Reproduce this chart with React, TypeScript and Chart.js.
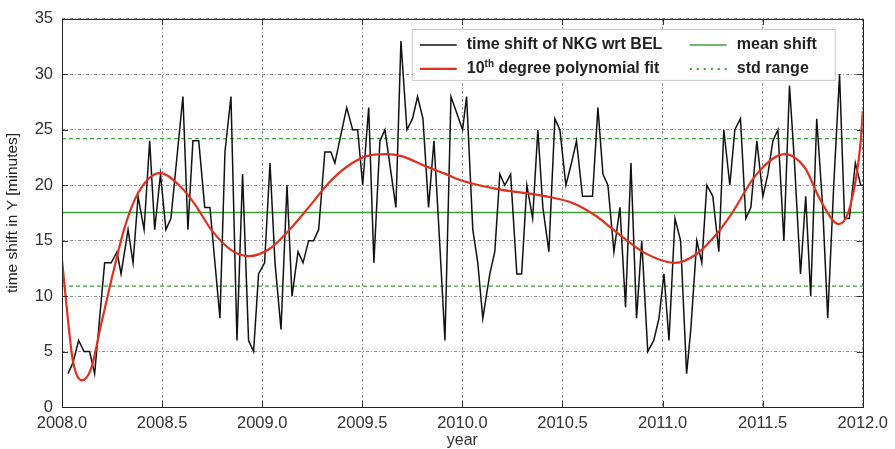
import React, { useEffect, useRef } from 'react';
import { Chart, registerables } from 'chart.js';

Chart.register(...registerables);

// ---- data ----
const shiftYears = [
  2008.030, 2008.055, 2008.083, 2008.110, 2008.138, 2008.163, 2008.213, 2008.246, 2008.275, 2008.295,
  2008.330, 2008.355, 2008.380, 2008.410, 2008.438, 2008.463, 2008.492, 2008.519, 2008.544, 2008.604,
  2008.629, 2008.654, 2008.683, 2008.713, 2008.739, 2008.789, 2008.814, 2008.844, 2008.874, 2008.902,
  2008.932, 2008.957, 2008.982, 2009.012, 2009.039, 2009.064, 2009.094, 2009.124, 2009.149, 2009.179,
  2009.204, 2009.232, 2009.257, 2009.282, 2009.313, 2009.343, 2009.363, 2009.422, 2009.452, 2009.477,
  2009.502, 2009.532, 2009.558, 2009.588, 2009.613, 2009.668, 2009.693, 2009.723, 2009.751, 2009.776,
  2009.803, 2009.831, 2009.858, 2009.883, 2009.913, 2009.943, 2010.001, 2010.021, 2010.052, 2010.077,
  2010.102, 2010.137, 2010.162, 2010.187, 2010.212, 2010.241, 2010.272, 2010.296, 2010.322, 2010.351,
  2010.377, 2010.402, 2010.432, 2010.462, 2010.487, 2010.517, 2010.545, 2010.570, 2010.600, 2010.650,
  2010.677, 2010.702, 2010.727, 2010.757, 2010.787, 2010.815, 2010.842, 2010.870, 2010.896, 2010.926,
  2010.956, 2010.982, 2011.007, 2011.032, 2011.062, 2011.090, 2011.120, 2011.141, 2011.171, 2011.196,
  2011.221, 2011.251, 2011.281, 2011.306, 2011.336, 2011.361, 2011.389, 2011.416, 2011.441, 2011.471,
  2011.501, 2011.526, 2011.551, 2011.576, 2011.606, 2011.634, 2011.659, 2011.689, 2011.715, 2011.740,
  2011.770, 2011.800, 2011.825, 2011.855, 2011.884, 2011.909, 2011.933, 2011.963, 2011.990, 2012.000,
];
const shiftMinutes = [
  3, 4, 6, 5, 5, 3, 13, 13, 14, 12,
  16, 13, 19, 16, 24, 16, 21, 16, 17, 28,
  16, 24, 24, 18, 18, 8, 23, 28, 6, 21,
  6, 5, 12, 13, 22, 13, 7, 20, 10, 14,
  13, 15, 15, 16, 23, 23, 22, 27, 25, 25,
  20, 27, 13, 24, 25, 18, 33, 25, 26, 28,
  26, 18, 24, 16, 6, 28, 25, 28, 16, 13,
  8, 12, 14, 21, 20, 21, 12, 12, 20, 17,
  25, 18, 14, 26, 25, 20, 22, 24, 19, 19,
  27, 21, 20, 14, 18, 9, 22, 8, 15, 5,
  6, 8, 12, 6, 17, 15, 3, 7, 15, 13,
  20, 19, 14, 25, 20, 25, 26, 17, 18, 24,
  19, 21, 24, 25, 15, 29, 22, 12, 19, 10,
  26, 18, 8, 20, 30, 17, 17, 22, 20, 20,
];

const fitYears = [
  2008.000, 2008.030, 2008.055, 2008.100, 2008.146, 2008.196, 2008.246, 2008.313, 2008.380, 2008.488,
  2008.596, 2008.663, 2008.749, 2008.849, 2008.932, 2009.032, 2009.132, 2009.232, 2009.332, 2009.418,
  2009.518, 2009.618, 2009.700, 2009.818, 2009.918, 2010.000, 2010.190, 2010.350, 2010.420, 2010.550,
  2010.670, 2010.760, 2010.910, 2011.060, 2011.170, 2011.270, 2011.340, 2011.470, 2011.610, 2011.710,
  2011.790, 2011.880, 2011.940, 2011.990, 2012.000,
];
const fitMinutes = [
  13.3, 7.8, 4.1, 2.4, 3.5, 7.5, 11.4, 16.2, 19.3, 21.1,
  19.8, 18.3, 15.9, 14.1, 13.6, 14.2, 15.9, 18.0, 20.2, 21.6,
  22.6, 22.8, 22.6, 21.7, 21.0, 20.4, 19.6, 19.2, 19.0, 18.4,
  17.2, 15.9, 13.9, 13.0, 13.8, 15.6, 17.3, 21.0, 22.8, 21.6,
  18.6, 16.5, 18.3, 24.0, 26.7,
];

const meanShift = 17.55;
const stdShift = 6.65;
const yearRange = [2008.0, 2012.0];

const legendLabels = ['time shift of NKG wrt BEL', '10th degree polynomial fit', 'mean shift', 'std range'];

const FONT = "'Liberation Sans', Arial, Helvetica, sans-serif";
const BLACK = '#111111';
const RED = '#e0301e';
const GREEN = '#3f9f3f';
const GRID = 'rgba(95,95,95,0.7)';

const framePlugin = {
  id: 'frame',
  afterDatasetsDraw(chart: any) {
    const { ctx, chartArea } = chart;
    const { left, right, top, bottom } = chartArea;
    ctx.save();
    ctx.strokeStyle = '#333333';
    ctx.lineWidth = 1;
    ctx.setLineDash([]);
    // inward tick marks
    const xs = chart.scales.x;
    const ys = chart.scales.y;
    ctx.beginPath();
    xs.ticks.forEach((t: any) => {
      const px = Math.round(xs.getPixelForValue(t.value)) + 0.5;
      ctx.moveTo(px, bottom);
      ctx.lineTo(px, bottom - 6);
      ctx.moveTo(px, top);
      ctx.lineTo(px, top + 6);
    });
    ys.ticks.forEach((t: any) => {
      const py = Math.round(ys.getPixelForValue(t.value)) + 0.5;
      ctx.moveTo(left, py);
      ctx.lineTo(left + 6, py);
      ctx.moveTo(right, py);
      ctx.lineTo(right - 6, py);
    });
    ctx.stroke();
    ctx.strokeStyle = '#222222';
    ctx.strokeRect(Math.round(left) + 0.5, Math.round(top) + 0.5, Math.round(right - left), Math.round(bottom - top));
    ctx.restore();
  },
};

const legendPlugin = {
  id: 'boxLegend',
  afterDraw(chart: any) {
    const { ctx, chartArea } = chart;
    const bx = chartArea.right - 451;
    const by = chartArea.top + 10;
    const bw = 423;
    const bh = 51;
    ctx.save();
    ctx.fillStyle = '#ffffff';
    ctx.fillRect(bx, by, bw, bh);
    ctx.strokeStyle = '#c8c8c8';
    ctx.lineWidth = 1;
    ctx.strokeRect(bx + 0.5, by + 0.5, bw, bh);

    const rows = [by + 16, by + 40];
    const cols = [bx + 8, bx + 278];
    const items = [
      { col: 0, row: 0, color: BLACK, width: 1.5, dash: [] as number[] },
      { col: 0, row: 1, color: RED, width: 2.2, dash: [] as number[] },
      { col: 1, row: 0, color: GREEN, width: 1.5, dash: [] as number[] },
      { col: 1, row: 1, color: GREEN, width: 2, dash: [2, 5] },
    ];
    ctx.textBaseline = 'middle';
    ctx.textAlign = 'left';
    items.forEach((it, i) => {
      const x = cols[it.col];
      const y = rows[it.row];
      ctx.beginPath();
      ctx.strokeStyle = it.color;
      ctx.lineWidth = it.width;
      ctx.setLineDash(it.dash);
      ctx.moveTo(x, y);
      ctx.lineTo(x + 37, y);
      ctx.stroke();
      ctx.setLineDash([]);
      ctx.fillStyle = '#222222';
      const label = legendLabels[i];
      let tx = x + 47;
      const m = label.match(/^(\d+)(th)(.*)$/);
      if (m) {
        ctx.font = `bold 16px ${FONT}`;
        ctx.fillText(m[1], tx, y);
        tx += ctx.measureText(m[1]).width;
        ctx.font = `bold 10px ${FONT}`;
        ctx.fillText(m[2], tx, y - 5);
        tx += ctx.measureText(m[2]).width;
        ctx.font = `bold 16px ${FONT}`;
        ctx.fillText(m[3], tx, y);
      } else {
        ctx.font = `bold 16px ${FONT}`;
        ctx.fillText(label, tx, y);
      }
    });
    ctx.restore();
  },
};

export default function App() {
  const ref = useRef<HTMLCanvasElement | null>(null);

  useEffect(() => {
    if (!ref.current) return;
    const shiftData = shiftYears.map((x, i) => ({ x, y: shiftMinutes[i] }));
    const fitData = fitYears.map((x, i) => ({ x, y: fitMinutes[i] }));
    const meanData = yearRange.map((x) => ({ x, y: meanShift }));
    const upperData = yearRange.map((x) => ({ x, y: meanShift + stdShift }));
    const lowerData = yearRange.map((x) => ({ x, y: meanShift - stdShift }));

    const chart = new Chart(ref.current, {
      type: 'line',
      data: {
        datasets: [
          {
            label: legendLabels[1],
            data: fitData,
            borderColor: RED,
            borderWidth: 2.2,
            pointRadius: 0,
            cubicInterpolationMode: 'monotone',
          },
          {
            label: legendLabels[0],
            data: shiftData,
            borderColor: BLACK,
            borderWidth: 1.5,
            pointRadius: 0,
            tension: 0,
          },
          {
            label: legendLabels[2],
            data: meanData,
            borderColor: GREEN,
            borderWidth: 1.5,
            pointRadius: 0,
          },
          {
            label: legendLabels[3],
            data: upperData,
            borderColor: GREEN,
            borderWidth: 1.2,
            borderDash: [4, 3],
            pointRadius: 0,
          },
          {
            label: legendLabels[3] + ' (lower)',
            data: lowerData,
            borderColor: GREEN,
            borderWidth: 1.2,
            borderDash: [4, 3],
            pointRadius: 0,
          },
        ],
      } as any,
      options: {
        animation: false,
        responsive: false,
        events: [],
        layout: { padding: { top: 17, right: 32, left: 0, bottom: 0 } },
        plugins: {
          legend: { display: false },
          tooltip: { enabled: false },
        },
        scales: {
          x: {
            type: 'linear',
            min: 2008,
            max: 2012,
            afterFit(s: any) {
              s.height = 42;
            },
            ticks: {
              stepSize: 0.5,
              autoSkip: false,
              maxRotation: 0,
              padding: 7,
              color: '#333333',
              font: { family: FONT, size: 16.5 },
              callback: (v: any) => Number(v).toFixed(1),
            },
            grid: { color: GRID, lineWidth: 1, drawTicks: false },
            border: { display: false, dash: [3, 2, 1, 2] },
            title: {
              display: true,
              text: 'year',
              color: '#333333',
              font: { family: FONT, size: 16, lineHeight: 1 },
              padding: { top: 0, bottom: 0 },
            },
          },
          y: {
            min: 0,
            max: 35,
            afterFit(s: any) {
              s.width = 62;
            },
            ticks: {
              stepSize: 5,
              padding: 9,
              color: '#333333',
              font: { family: FONT, size: 16.5 },
            },
            grid: { color: GRID, lineWidth: 1, drawTicks: false },
            border: { display: false, dash: [3, 2, 1, 2] },
            title: {
              display: true,
              text: 'time shift in Y [minutes]',
              color: '#222222',
              font: { family: FONT, size: 15.5 },
              padding: { top: 3, bottom: 0 },
            },
          },
        },
      } as any,
      plugins: [framePlugin, legendPlugin],
    });
    return () => chart.destroy();
  }, []);

  return (
    <div style={{ position: 'fixed', left: 0, top: 0, width: 895, height: 449, background: '#ffffff' }}>
      <canvas ref={ref} width={895} height={449} />
    </div>
  );
}
